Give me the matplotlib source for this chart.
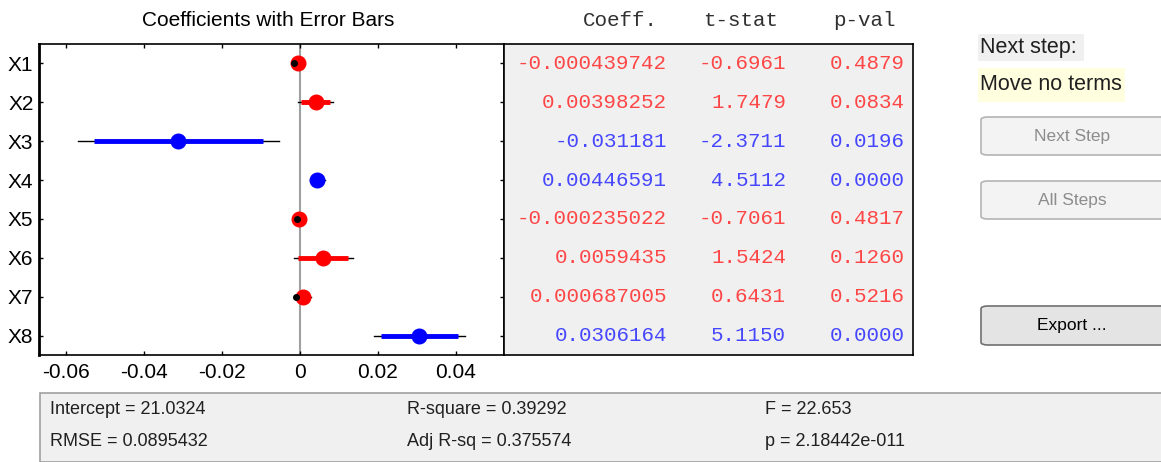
#!/usr/bin/env python

import numpy as np
import matplotlib
matplotlib.use('Agg')
import matplotlib.pyplot as plt
from matplotlib.patches import Rectangle, FancyBboxPatch
from matplotlib.transforms import blended_transform_factory

plt.rc("font", family=["Liberation Sans", "DejaVu Sans"])

# stepwise regression results
terms = ["X1", "X2", "X3", "X4", "X5", "X6", "X7", "X8"]
coeff = [-0.000439742, 0.00398252, -0.031181, 0.00446591,
         -0.000235022, 0.0059435, 0.000687005, 0.0306164]
tstat = [-0.6961, 1.7479, -2.3711, 4.5112, -0.7061, 1.5424, 0.6431, 5.1150]
pval = [0.4879, 0.0834, 0.0196, 0.0000, 0.4817, 0.1260, 0.5216, 0.0000]
in_model = [False, False, True, True, False, False, False, True]
xticks = [-0.06, -0.04, -0.02, 0, 0.02, 0.04]
xticklabels = ["-0.06", "-0.04", "-0.02", "0", "0.02", "0.04"]
headers = ["Coeff.", "t-stat", "p-val"]
stats_left = ["Intercept = 21.0324", "RMSE = 0.0895432"]
stats_mid = ["R-square = 0.39292", "Adj R-sq = 0.375574"]
stats_right = ["F = 22.653", "p = 2.18442e-011"]
next_step = "Move no terms"

W, H = 1161, 462
fig = plt.figure(figsize=(W/100, H/100), dpi=100)
fig.patch.set_facecolor("white")


def rect(x0, y0, x1, y1):
	"""pixel box (top-left origin) -> figure fraction [l, b, w, h]"""
	return [x0/W, 1 - y1/H, (x1 - x0)/W, (y1 - y0)/H]


def fx(x):
	return x/W


def fy(y):
	return 1 - y/H


coeff = np.array(coeff)
tstat = np.array(tstat)
se = coeff/tstat
ci90 = 1.645*np.abs(se)
ci95 = 1.96*np.abs(se)
ypos = np.arange(1, len(terms) + 1)
colors = ["blue" if m else "red" for m in in_model]
txtcolors = ["#4646ff" if m else "#ff4646" for m in in_model]

# --- coefficient plot
ax = fig.add_axes(rect(39, 44, 504, 355))
ax.axvline(0, color="#a0a0a0", lw=1.5, zorder=1)
for i in range(len(terms)):
	y = ypos[i]
	ax.plot([coeff[i] - ci95[i], coeff[i] + ci95[i]], [y, y], color="black", lw=1, zorder=2)
	ax.plot([coeff[i] - ci90[i], coeff[i] + ci90[i]], [y, y], color=colors[i], lw=3.5,
		solid_capstyle="butt", zorder=3)
	ax.plot(coeff[i], y, "o", color=colors[i], ms=10.5, mec=colors[i], zorder=4)
	if not in_model[i] and abs(tstat[i]) < 1:
		ax.plot(coeff[i] - ci90[i], y, "o", color="black", ms=4, zorder=5)
ax.set_xlim(-0.0669, 0.0523)
ax.set_ylim(len(terms) + 0.5, 0.5)
ax.set_xticks(xticks)
ax.set_xticklabels(xticklabels, fontsize=15)
ax.set_yticks(ypos)
ax.set_yticklabels(terms, fontsize=15)
ax.tick_params(direction="in", length=3, width=1, top=True, right=True, pad=6)
ax.tick_params(axis="y", pad=4)
for side in ["top", "bottom", "right"]:
	ax.spines[side].set_linewidth(1.2)
ax.spines["left"].set_linewidth(2)
fig.text(fx(268), fy(20), "Coefficients with Error Bars", ha="center", va="center", fontsize=15)

# --- table of coefficients
tab = fig.add_axes(rect(504, 44, 913, 355))
tab.set_facecolor("#f0f0f0")
tab.set_xlim(0, 1)
tab.set_ylim(len(terms) + 0.5, 0.5)
tab.set_xticks([])
tab.set_yticks([])
for side in tab.spines:
	tab.spines[side].set_linewidth(1.2)
col_x = [0.3985, 0.6895, 0.980]
head_x = [0.3765, 0.670, 0.958]
mono = dict(family=["Liberation Mono", "DejaVu Sans Mono"], fontsize=15)
for i in range(len(terms)):
	vals = [format(coeff[i], "g"), "%.4f" % tstat[i], "%.4f" % pval[i]]
	for cx, v in zip(col_x, vals):
		tab.text(cx, ypos[i], v, ha="right", va="center", color=txtcolors[i], **mono)
trans = blended_transform_factory(tab.transAxes, fig.transFigure)
for hx, h in zip(head_x, headers):
	tab.text(hx, fy(20), h, ha="right", va="center", color="#303030", transform=trans, **mono)

# --- next step panel and buttons
fig.add_artist(Rectangle((fx(978), fy(61)), (1084 - 978)/W, 27/H, transform=fig.transFigure,
	facecolor="#f0f0f0", edgecolor="none"))
fig.text(fx(980), fy(47), "Next step:", ha="left", va="center", fontsize=15.5, color="#202020")
fig.add_artist(Rectangle((fx(978), fy(102)), (1125 - 978)/W, 34/H, transform=fig.transFigure,
	facecolor="#ffffe0", edgecolor="none"))
fig.text(fx(980), fy(84), next_step, ha="left", va="center", fontsize=15.5, color="#202020")

buttons = [("Next Step", 117, 155, "#f3f3f3", "#b4b4b4", "#8c8c8c"),
	("All Steps", 181, 219, "#f3f3f3", "#b4b4b4", "#8c8c8c"),
	("Export ...", 306, 345, "#e4e4e4", "#707070", "black")]
for label, y0, y1, fc, ec, tc in buttons:
	fig.add_artist(FancyBboxPatch((fx(981), fy(y1)), (1175 - 981)/W, (y1 - y0)/H,
		boxstyle="round,pad=0,rounding_size=0.006", transform=fig.transFigure,
		facecolor=fc, edgecolor=ec, lw=1.2))
	fig.text(fx(1072), fy((y0 + y1)/2), label, ha="center", va="center", fontsize=12.5, color=tc)

# --- summary statistics panel
fig.add_artist(Rectangle((fx(40), fy(462)), (1170 - 40)/W, (462 - 393)/H, transform=fig.transFigure,
	facecolor="#f0f0f0", edgecolor="#a0a0a0", lw=1.2))
for xp, col in [(50, stats_left), (407, stats_mid), (765, stats_right)]:
	for yp, s in zip([410, 442], col):
		fig.text(fx(xp), fy(yp), s, ha="left", va="center", fontsize=13, color="#202020")

plt.savefig("out.png", dpi=100)
